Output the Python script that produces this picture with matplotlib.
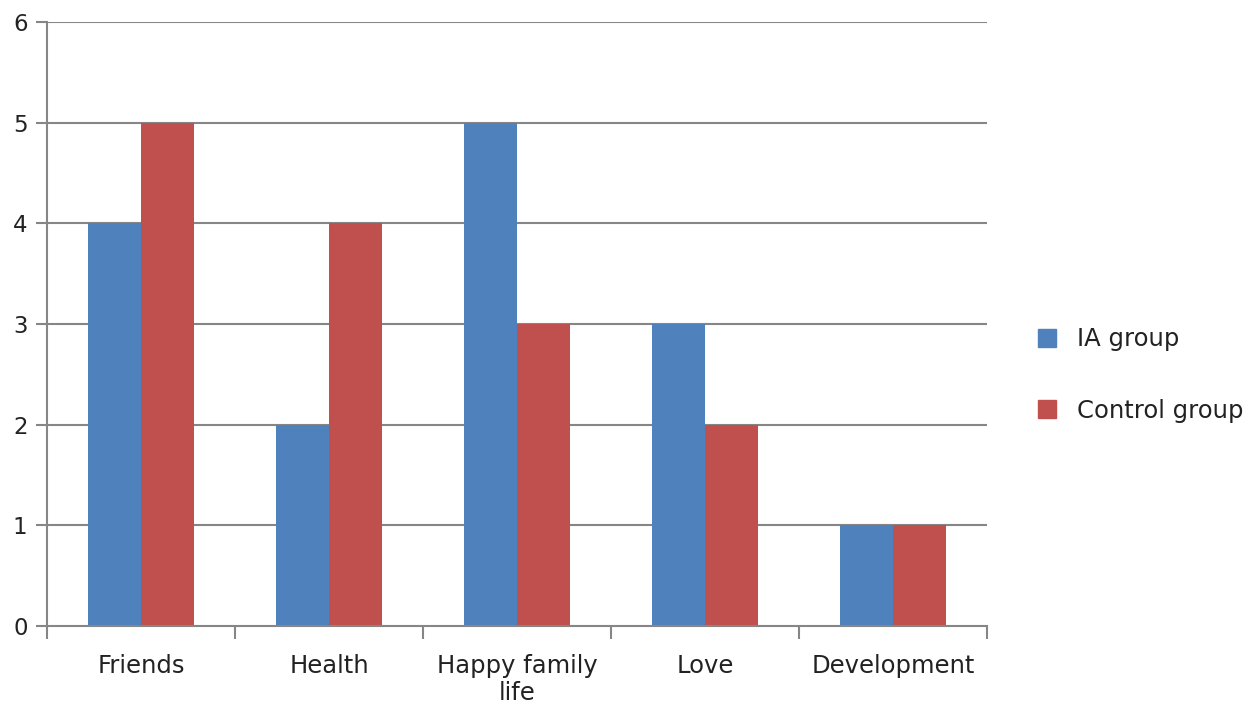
import matplotlib
matplotlib.use("Agg")
import matplotlib.pyplot as plt
import numpy as np
from matplotlib.patches import Patch

categories = ["Friends", "Health", "Happy family\nlife", "Love", "Development"]
ia_group = [4, 2, 5, 3, 1]
control_group = [5, 4, 3, 2, 1]
series_names = ["IA group", "Control group"]
yticks = [0, 1, 2, 3, 4, 5, 6]

blue = "#4F81BD"
red = "#C0504D"
grid_c = "#868686"

plt.rcParams['font.family'] = ['DejaVu Sans']
fig = plt.figure(figsize=(12.55, 7.07), dpi=100)
ax = fig.add_axes([47/1255, 1-626/707, 940/1255, 604/707])

x = np.arange(len(categories))
w = 0.28
ax.bar(x - w/2, ia_group, w, color=blue, zorder=3)
ax.bar(x + w/2, control_group, w, color=red, zorder=3)

ax.set_xlim(-0.5, len(categories) - 0.5)
ax.set_ylim(0, 6)
ax.set_yticks(yticks)
ax.set_yticklabels([str(v) for v in yticks], fontsize=16.5, color="#222222")
for v in yticks[1:]:
    ax.axhline(v, color=grid_c, lw=1.5, zorder=1)

# category boundary ticks
ax.set_xticks(np.arange(-0.5, len(categories), 1.0))
ax.set_xticklabels([])
ax.set_xticks(x, minor=True)
ax.set_xticklabels(categories, minor=True, fontsize=17.5, color="#222222", linespacing=1.15)
ax.tick_params(axis='x', which='minor', length=0, pad=20)
ax.tick_params(axis='x', which='major', length=9, width=1.5, color=grid_c, direction='out')
ax.tick_params(axis='y', length=8, width=1.5, color=grid_c, direction='out', pad=6)

for s in ["top", "right"]:
    ax.spines[s].set_visible(False)
for s in ["left", "bottom"]:
    ax.spines[s].set_color(grid_c)
    ax.spines[s].set_linewidth(1.5)
    ax.spines[s].set_zorder(4)

handles = [Patch(color=blue), Patch(color=red)]
leg = fig.legend(handles, series_names, loc="center left", bbox_to_anchor=(1026/1255, 1-375/707),
                 frameon=False, fontsize=17.5, handlelength=0.75, handleheight=0.75,
                 labelspacing=1.95, handletextpad=0.85, borderpad=0)
for t in leg.get_texts():
    t.set_color("#222222")

fig.savefig("out.png", dpi=100)
